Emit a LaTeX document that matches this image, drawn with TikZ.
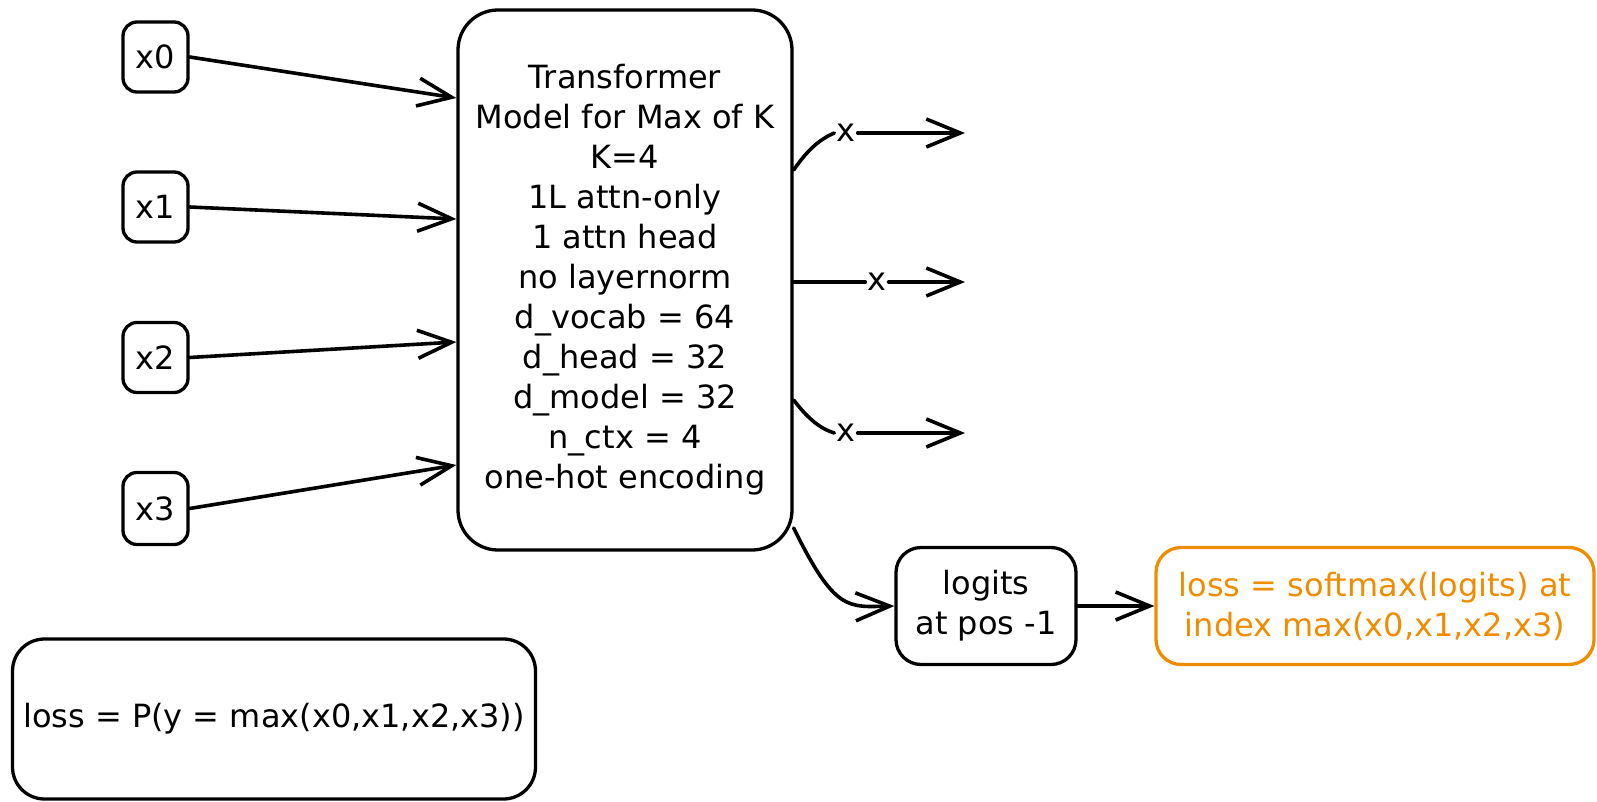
\documentclass[tikz,border=0pt]{standalone}
\usepackage{fontspec}
\setmainfont{DejaVu Sans}
\usetikzlibrary{arrows.meta}
\definecolor{exorange}{HTML}{F08C00}
\begin{document}
\begin{tikzpicture}[x=1pt,y=-1pt,
  every node/.style={font=\fontsize{32}{40}\selectfont},
  box/.style={draw, line width=3.3pt, rounded corners=14pt, align=center, inner sep=0pt},
  arr/.style={line width=3.6pt, line cap=round, -{Straight Barb[length=34pt,width=28pt]}},
  plain/.style={line width=3.6pt, line cap=round},
  lab/.style={fill=white, inner sep=2pt}
]
\useasboundingbox (0,0) rectangle (1597,802);

% input boxes
\node[box, minimum width=65pt, minimum height=70pt] (x0) at (155.5,57) {x0};
\node[box, minimum width=65pt, minimum height=70pt] (x1) at (155.5,207) {x1};
\node[box, minimum width=65pt, minimum height=70pt] (x2) at (155.5,357.5) {x2};
\node[box, minimum width=65pt, minimum height=72pt] (x3) at (155.5,508.5) {x3};

% main model box
\node[box, rounded corners=40pt, minimum width=334pt, minimum height=540pt] (main) at (625,280)
  {Transformer\\Model for Max of K\\K=4\\1L attn-only\\1 attn head\\no layernorm\\d\_vocab = 64\\d\_head = 32\\d\_model = 32\\n\_ctx = 4\\one-hot encoding};

% logits and loss boxes
\node[box, rounded corners=25pt, minimum width=180pt, minimum height=117pt] (logits) at (986,606) {logits\\at pos -1};
\node[box, draw=exorange, text=exorange, rounded corners=25pt, minimum width=438pt, minimum height=117pt] (loss) at (1375,606)
  {loss = softmax(logits) at\\index max(x0,x1,x2,x3)};

% bottom-left box
\node[box, rounded corners=32pt, minimum width=523pt, minimum height=160pt] (P) at (274,719)
  {loss = P(y = max(x0,x1,x2,x3))};

% input arrows
\draw[arr] (x0.east) -- (main.west |- 0,98);
\draw[arr] (x1.east) -- (main.west |- 0,219);
\draw[arr] (x2.east) -- (main.west |- 0,342);
\draw[arr] (x3.east) -- (main.west |- 0,465);

% output arrows with x labels
\node[lab] (c1) at (846,133) {x};
\node[lab] (c2) at (877,282) {x};
\node[lab] (c3) at (846,433) {x};
\coordinate (o1) at (965,133);
\coordinate (o2) at (965,282);
\coordinate (o3) at (965,433);
\draw[plain] (main.east |- 0,170) .. controls (806,152) and (818,140) .. (c1.west);
\draw[arr] (c1.east) -- (o1);
\draw[plain] (main.east |- 0,282) -- (c2.west);
\draw[arr] (c2.east) -- (o2);
\draw[plain] (main.east |- 0,400) .. controls (806,416) and (818,428) .. (c3.west);
\draw[arr] (c3.east) -- (o3);

% main -> logits -> loss
\draw[arr] (main.east |- 0,528) .. controls (835,612) and (848,607) .. (logits.west);
\draw[arr] (logits) -- (loss);
\end{tikzpicture}
\end{document}
